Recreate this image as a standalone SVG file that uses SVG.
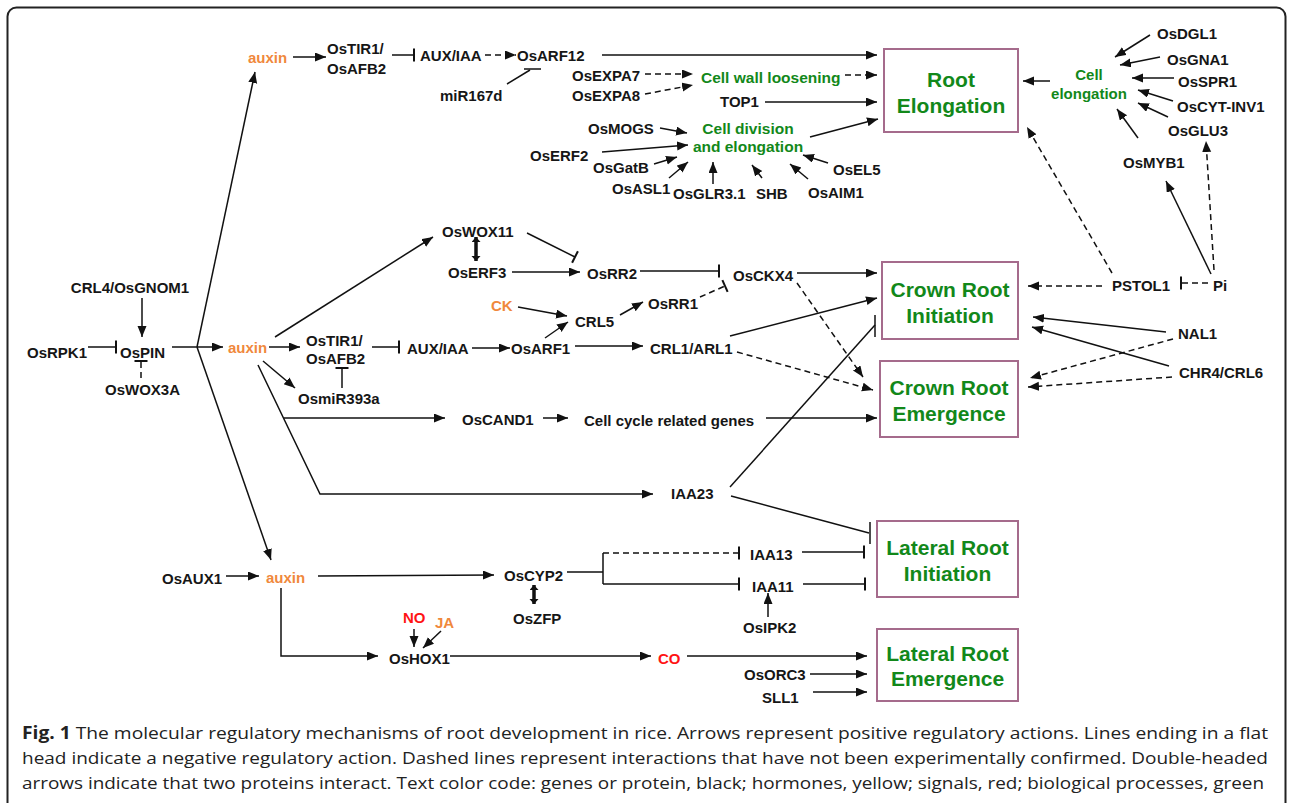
<svg xmlns="http://www.w3.org/2000/svg" width="1293" height="803" viewBox="0 0 1293 803">
<style>
text{font-family:"Liberation Sans",Arial,Helvetica,sans-serif;font-weight:bold;font-size:15px;fill:#161616;dominant-baseline:central}
.o{fill:#f0883c}
.r{fill:#ff1414}
.g{fill:#12881a}
.bx{fill:#fff;stroke:#a56b8c;stroke-width:2}
.bt{font-size:21px;fill:#12881a;text-anchor:middle}
.c{text-anchor:middle}
.ln{stroke:#111;stroke-width:1.5;fill:none}
.da{stroke-dasharray:6 4}
.dbl{stroke:#111;stroke-width:3.5;fill:none}
.cap{font-family:"Open Sans","Liberation Sans",sans-serif;font-weight:normal;font-size:17px;fill:#222;dominant-baseline:auto}
</style>
<defs>
<marker id="arr" markerUnits="userSpaceOnUse" markerWidth="12" markerHeight="10" refX="11" refY="4.5" orient="auto"><path d="M0,0 L11,4.5 L0,9 Z" fill="#111"/></marker>
<marker id="arr2" markerUnits="userSpaceOnUse" markerWidth="8" markerHeight="10" refX="5" refY="4.5" orient="auto-start-reverse"><path d="M0,0 L5,4.5 L0,9 Z" fill="#111"/></marker>
<marker id="bar" markerUnits="userSpaceOnUse" markerWidth="4" markerHeight="16" refX="2" refY="8" orient="auto"><path d="M2,1.5 V14.5" stroke="#111" stroke-width="2"/></marker>
</defs>
<rect x="7.5" y="7.5" width="1278" height="830" rx="9" fill="#fff" stroke="#222" stroke-width="2"/>

<g id="connectors">
<!-- top branch -->
<path class="ln" d="M293,57 H326" marker-end="url(#arr)"/>
<path class="ln" d="M392,55 H414" marker-end="url(#bar)"/>
<path class="ln da" d="M485,55 H516" marker-end="url(#arr)"/>
<path class="ln" d="M507,84 L530,70"/>
<path class="ln" d="M524,69 H541" stroke-width="2"/>
<path class="ln" d="M602,55 H877" marker-end="url(#arr)"/>
<path class="ln da" d="M645,74 H693" marker-end="url(#arr)"/>
<path class="ln da" d="M645,94 L693,85" marker-end="url(#arr)"/>
<path class="ln da" d="M845,75 H877" marker-end="url(#arr)"/>
<path class="ln" d="M765,102 H877" marker-end="url(#arr)"/>
<path class="ln" d="M810,137 L878,119" marker-end="url(#arr)"/>
<path class="ln" d="M660,128 L687,133" marker-end="url(#arr)"/>
<path class="ln" d="M602,152 L688,145" marker-end="url(#arr)"/>
<path class="ln" d="M654,164 L677,157" marker-end="url(#arr)"/>
<path class="ln" d="M669,178 L688,162" marker-end="url(#arr)"/>
<path class="ln" d="M713,184 V162" marker-end="url(#arr)"/>
<path class="ln" d="M762,178 L752,165" marker-end="url(#arr)"/>
<path class="ln" d="M808,179 L790,164" marker-end="url(#arr)"/>
<path class="ln" d="M828,163 L803,155" marker-end="url(#arr)"/>
<!-- top right -->
<path class="ln" d="M1050,81 H1023" marker-end="url(#arr)"/>
<path class="ln" d="M1150,35 L1115,57" marker-end="url(#arr)"/>
<path class="ln" d="M1160,57 L1120,65" marker-end="url(#arr)"/>
<path class="ln" d="M1174,78 H1132" marker-end="url(#arr)"/>
<path class="ln" d="M1173,101 L1138,90" marker-end="url(#arr)"/>
<path class="ln" d="M1168,117 L1138,103" marker-end="url(#arr)"/>
<path class="ln" d="M1138,138 L1117,109" marker-end="url(#arr)"/>
<path class="ln" d="M1211,274 L1166,181" marker-end="url(#arr)"/>
<path class="ln da" d="M1214,270 L1206,141" marker-end="url(#arr)"/>
<path class="ln da" d="M1112,273 L1027,127" marker-end="url(#arr)"/>
<path class="ln da" d="M1102,286 H1028" marker-end="url(#arr)"/>
<path class="ln da" d="M1208,283 H1181" marker-end="url(#bar)"/>
<path class="ln" d="M1166,332 L1033,317" marker-end="url(#arr)"/>
<path class="ln da" d="M1173,339 L1030,378" marker-end="url(#arr)"/>
<path class="ln" d="M1169,366 L1032,327" marker-end="url(#arr)"/>
<path class="ln da" d="M1172,377 L1028,387" marker-end="url(#arr)"/>
<!-- left -->
<path class="ln" d="M142,298 V337" marker-end="url(#arr)"/>
<path class="ln" d="M88,347 H116" marker-end="url(#bar)"/>
<path class="ln da" d="M141,378 V361" marker-end="url(#bar)"/>
<path class="ln" d="M172,347 H223" marker-end="url(#arr)"/>
<path class="ln" d="M197,347 L255,72" marker-end="url(#arr)"/>
<path class="ln" d="M197,347 L271,560" marker-end="url(#arr)"/>
<path class="ln" d="M269,347 H300" marker-end="url(#arr)"/>
<path class="ln" d="M263,361 L295,388" marker-end="url(#arr)"/>
<path class="ln" d="M342,388 V368" marker-end="url(#bar)"/>
<path class="ln" d="M372,347 H399" marker-end="url(#bar)"/>
<path class="ln" d="M472,348 H510" marker-end="url(#arr)"/>
<path class="ln" d="M545,338 L568,322" marker-end="url(#arr)"/>
<path class="ln" d="M575,346 H643" marker-end="url(#arr)"/>
<path class="ln" d="M518,307 L567,316" marker-end="url(#arr)"/>
<path class="ln" d="M620,315 L643,302" marker-end="url(#arr)"/>
<path class="ln da" d="M700,297 L725,286" marker-end="url(#bar)"/>
<path class="ln" d="M275,337 L433,237" marker-end="url(#arr)"/>
<path class="dbl" d="M476,237 V261" marker-start="url(#arr2)" marker-end="url(#arr2)"/>
<path class="ln" d="M512,272 H580" marker-end="url(#arr)"/>
<path class="ln" d="M527,233 L575,257" marker-end="url(#bar)"/>
<path class="ln" d="M640,271 H719" marker-end="url(#bar)"/>
<path class="ln" d="M797,273 H877" marker-end="url(#arr)"/>
<path class="ln da" d="M797,283 L863,377" marker-end="url(#arr)"/>
<path class="ln" d="M730,336 L877,298" marker-end="url(#arr)"/>
<path class="ln da" d="M737,352 L873,390" marker-end="url(#arr)"/>
<path class="ln" d="M258,365 L320,494 H653" marker-end="url(#arr)"/>
<path class="ln" d="M284,418 H445" marker-end="url(#arr)"/>
<path class="ln" d="M543,418 H568" marker-end="url(#arr)"/>
<path class="ln" d="M766,418 H877" marker-end="url(#arr)"/>
<path class="ln" d="M730,487 L875,325"/>
<path class="ln" d="M875,315 V337" stroke-width="2"/>
<path class="ln" d="M731,496 L869,533"/>
<path class="ln" d="M870,522 V544" stroke-width="2"/>
<!-- bottom -->
<path class="ln" d="M226,576 H259" marker-end="url(#arr)"/>
<path class="ln" d="M318,576 L494,575" marker-end="url(#arr)"/>
<path class="ln" d="M567,572 H603 M603,553 V584"/>
<path class="ln da" d="M603,553 H739" marker-end="url(#bar)"/>
<path class="ln" d="M603,584 H739" marker-end="url(#bar)"/>
<path class="ln" d="M802,552 H864" marker-end="url(#bar)"/>
<path class="ln" d="M803,584 H865" marker-end="url(#bar)"/>
<path class="ln" d="M768,617 V593" marker-end="url(#arr)"/>
<path class="dbl" d="M534,585 V604" marker-start="url(#arr2)" marker-end="url(#arr2)"/>
<path class="ln" d="M414,629 V647" marker-end="url(#arr)"/>
<path class="ln" d="M441,631 L423,648" marker-end="url(#arr)"/>
<path class="ln" d="M281,588 V656 H378" marker-end="url(#arr)"/>
<path class="ln" d="M450,656 H651" marker-end="url(#arr)"/>
<path class="ln" d="M687,656 H867" marker-end="url(#arr)"/>
<path class="ln" d="M810,674 H867" marker-end="url(#arr)"/>
<path class="ln" d="M813,692 H867" marker-end="url(#arr)"/>
</g>

<g id="boxes">
<g id="root-elongation"><rect class="bx" x="884" y="49" width="134" height="83"/><text class="bt" x="951" y="79">Root</text><text class="bt" x="951" y="105">Elongation</text></g>
<g id="crown-root-initiation"><rect class="bx" x="882" y="262" width="136" height="77"/><text class="bt" x="950" y="289">Crown Root</text><text class="bt" x="950" y="315">Initiation</text></g>
<g id="crown-root-emergence"><rect class="bx" x="880" y="361" width="138" height="76"/><text class="bt" x="949" y="387">Crown Root</text><text class="bt" x="949" y="413">Emergence</text></g>
<g id="lateral-root-initiation"><rect class="bx" x="877" y="521" width="141" height="76"/><text class="bt" x="947.5" y="547">Lateral Root</text><text class="bt" x="947.5" y="573">Initiation</text></g>
<g id="lateral-root-emergence"><rect class="bx" x="877" y="629" width="141" height="72"/><text class="bt" x="947.5" y="653">Lateral Root</text><text class="bt" x="947.5" y="678">Emergence</text></g>
</g>

<g id="nodes">
<g id="auxin-top"><text class="o" x="248" y="57">auxin</text></g>
<g id="ostir1-top"><text x="327" y="48">OsTIR1/</text><text x="327" y="68">OsAFB2</text></g>
<g id="auxiaa-top"><text x="420" y="55">AUX/IAA</text></g>
<g id="osarf12"><text x="517" y="55">OsARF12</text></g>
<g id="mir167d"><text x="440" y="95">miR167d</text></g>
<g id="osexpa7"><text x="572" y="75">OsEXPA7</text></g>
<g id="osexpa8"><text x="572" y="95">OsEXPA8</text></g>
<g id="cell-wall-loosening"><text class="g" x="701" y="77" style="font-size:15.5px">Cell wall loosening</text></g>
<g id="top1"><text x="720" y="101">TOP1</text></g>
<g id="cell-division"><text class="g c" x="748" y="128" style="font-size:15.5px">Cell division</text><text class="g c" x="748" y="146" style="font-size:15.5px">and elongation</text></g>
<g id="osmogs"><text x="588" y="128">OsMOGS</text></g>
<g id="oserf2"><text x="530" y="155">OsERF2</text></g>
<g id="osgatb"><text x="593" y="167">OsGatB</text></g>
<g id="osasl1"><text x="612" y="188">OsASL1</text></g>
<g id="osglr31"><text x="673" y="193">OsGLR3.1</text></g>
<g id="shb"><text x="756" y="193">SHB</text></g>
<g id="osaim1"><text x="808" y="192">OsAIM1</text></g>
<g id="osel5"><text x="833" y="169">OsEL5</text></g>
<g id="cell-elongation"><text class="g c" x="1089" y="74">Cell</text><text class="g c" x="1089" y="93">elongation</text></g>
<g id="osdgl1"><text x="1157" y="33">OsDGL1</text></g>
<g id="osgna1"><text x="1167" y="59">OsGNA1</text></g>
<g id="osspr1"><text x="1178" y="81">OsSPR1</text></g>
<g id="oscytinv1"><text x="1177" y="106">OsCYT-INV1</text></g>
<g id="osglu3"><text x="1168" y="130">OsGLU3</text></g>
<g id="osmyb1"><text x="1123" y="162">OsMYB1</text></g>
<g id="pstol1"><text x="1112" y="285">PSTOL1</text></g>
<g id="pi"><text x="1213" y="285">Pi</text></g>
<g id="nal1"><text x="1178" y="333">NAL1</text></g>
<g id="chr4"><text x="1179" y="372">CHR4/CRL6</text></g>
<g id="crl4"><text class="c" x="130" y="287">CRL4/OsGNOM1</text></g>
<g id="osrpk1"><text x="27" y="352">OsRPK1</text></g>
<g id="ospin"><text x="120" y="352">OsPIN</text></g>
<g id="oswox3a"><text x="105" y="389">OsWOX3A</text></g>
<g id="auxin-mid"><text class="o" x="228" y="347">auxin</text></g>
<g id="ostir1-mid"><text x="306" y="340">OsTIR1/</text><text x="306" y="358">OsAFB2</text></g>
<g id="osmir393a"><text x="298" y="398">OsmiR393a</text></g>
<g id="auxiaa-mid"><text x="407" y="348">AUX/IAA</text></g>
<g id="osarf1"><text x="511" y="348">OsARF1</text></g>
<g id="ck"><text class="o" x="491" y="305">CK</text></g>
<g id="crl5"><text x="575" y="321">CRL5</text></g>
<g id="osrr1"><text x="648" y="303">OsRR1</text></g>
<g id="crl1"><text x="650" y="348">CRL1/ARL1</text></g>
<g id="oswox11"><text x="442" y="231">OsWOX11</text></g>
<g id="oserf3"><text x="448" y="272">OsERF3</text></g>
<g id="osrr2"><text x="587" y="273">OsRR2</text></g>
<g id="osckx4"><text x="733" y="275">OsCKX4</text></g>
<g id="oscand1"><text x="462" y="419">OsCAND1</text></g>
<g id="cell-cycle"><text x="584" y="420">Cell cycle related genes</text></g>
<g id="iaa23"><text x="671" y="493">IAA23</text></g>
<g id="osaux1"><text x="162" y="578">OsAUX1</text></g>
<g id="auxin-bottom"><text class="o" x="266" y="577">auxin</text></g>
<g id="oscyp2"><text x="504" y="575">OsCYP2</text></g>
<g id="oszfp"><text x="513" y="618">OsZFP</text></g>
<g id="no"><text class="r" x="403" y="617">NO</text></g>
<g id="ja"><text class="o" x="435" y="622">JA</text></g>
<g id="oshox1"><text x="389" y="658">OsHOX1</text></g>
<g id="co"><text class="r" x="658" y="658">CO</text></g>
<g id="iaa13"><text x="750" y="554">IAA13</text></g>
<g id="iaa11"><text x="752" y="586">IAA11</text></g>
<g id="osipk2"><text x="743" y="627">OsIPK2</text></g>
<g id="osorc3"><text x="744" y="674">OsORC3</text></g>
<g id="sll1"><text x="762" y="697">SLL1</text></g>
</g>

<g id="caption">
<text class="cap" x="22" y="739" textLength="1246" lengthAdjust="spacingAndGlyphs"><tspan font-weight="bold">Fig. 1</tspan> The molecular regulatory mechanisms of root development in rice. Arrows represent positive regulatory actions. Lines ending in a flat</text>
<text class="cap" x="22" y="764" textLength="1246" lengthAdjust="spacingAndGlyphs">head indicate a negative regulatory action. Dashed lines represent interactions that have not been experimentally confirmed. Double-headed</text>
<text class="cap" x="22" y="789" textLength="1242" lengthAdjust="spacingAndGlyphs">arrows indicate that two proteins interact. Text color code: genes or protein, black; hormones, yellow; signals, red; biological processes, green</text>
</g>
</svg>
